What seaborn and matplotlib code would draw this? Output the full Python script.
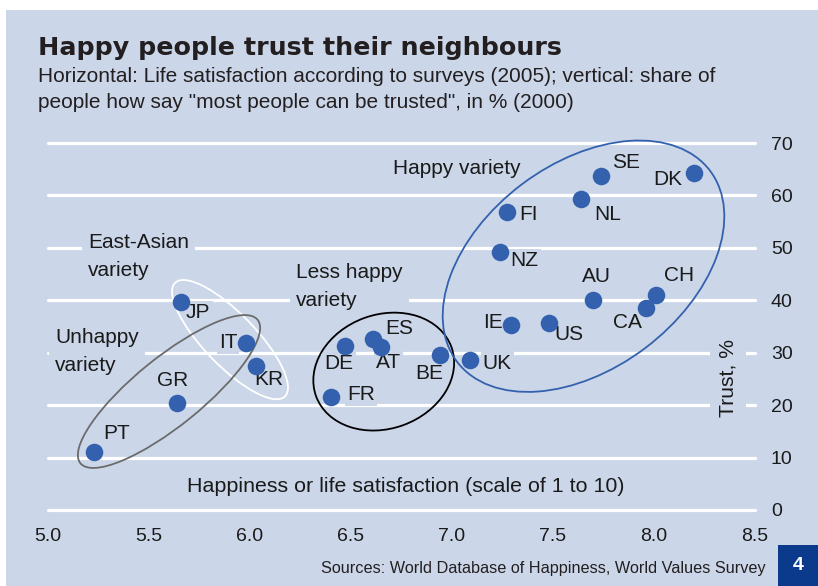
import matplotlib
matplotlib.use("Agg")
import matplotlib.pyplot as plt
import matplotlib.transforms as mtransforms
from matplotlib.patches import Ellipse, Rectangle
import pandas as pd
import seaborn as sns

# data
countries = ["PT", "GR", "JP", "IT", "KR", "DE", "FR", "ES", "AT", "BE", "UK",
             "IE", "US", "FI", "NZ", "NL", "SE", "DK", "AU", "CH", "CA"]
happiness = [5.23, 5.64, 5.66, 5.98, 6.03, 6.47, 6.40, 6.61, 6.65, 6.94, 7.09,
             7.29, 7.48, 7.27, 7.24, 7.64, 7.74, 8.20, 7.70, 8.01, 7.96]
trust = [11.1, 20.5, 39.7, 31.8, 27.5, 31.3, 21.5, 32.7, 31.1, 29.6, 28.6,
         35.3, 35.6, 56.8, 49.3, 59.4, 63.7, 64.2, 40.0, 41.1, 38.5]

x_ticks = [5.0, 5.5, 6.0, 6.5, 7.0, 7.5, 8.0, 8.5]
x_tick_labels = ["5.0", "5.5", "6.0", "6.5", "7.0", "7.5", "8.0", "8.5"]
y_ticks = [0, 10, 20, 30, 40, 50, 60, 70]

# label offsets in pixels (dx, dy), y up
label_offsets = {
    "PT": (22, 18), "GR": (-5, 22), "JP": (17, -11), "IT": (-18, 1),
    "KR": (13, -14), "DE": (-6, -18), "FR": (30, 3), "ES": (26, 10),
    "AT": (7, -16), "BE": (-11, -19), "UK": (27, -3), "IE": (-18, 2),
    "US": (20, -11), "FI": (22, -2), "NZ": (24, -9), "NL": (26, -16),
    "SE": (25, 14), "DK": (-27, -6), "AU": (3, 24), "CH": (23, 19),
    "CA": (-18, -14),
}

BG = "#cbd7e9"
DOT = "#3461ae"
INK = "#1a1a1a"

df = pd.DataFrame({"country": countries, "happiness": happiness, "trust": trust})

sns.set_theme(style="white")
plt.rcParams["font.family"] = ["Liberation Sans", "DejaVu Sans"]

fig = plt.figure(figsize=(8.18, 5.86), dpi=100)
fig.patch.set_facecolor("white")
fig.patches.append(Rectangle((6 / 818, 0), 1, 576 / 586, transform=fig.transFigure,
                             facecolor=BG, edgecolor="none", zorder=-10))

ax = fig.add_axes([48 / 818, 76 / 586, 707 / 818, 367 / 586])
ax.set_facecolor("none")
ax.set_xlim(5.0, 8.5)
ax.set_ylim(0, 70)
for s in ax.spines.values():
    s.set_visible(False)

# white gridlines
ax.hlines(y_ticks, 5.0, 8.5, color="white", lw=2.3, capstyle="round",
          zorder=1, clip_on=False)

sns.scatterplot(data=df, x="happiness", y="trust", ax=ax, s=160, color=DOT,
                linewidth=0, zorder=5, clip_on=False)

lbl_box = dict(boxstyle="square,pad=0.1", facecolor=BG, edgecolor="none")
for c, hx, ty in zip(countries, happiness, trust):
    dx, dy = label_offsets[c]
    ax.annotate(c, (hx, ty), xytext=(dx, dy), textcoords="offset pixels",
                ha="center", va="center", fontsize=15, color=INK,
                bbox=lbl_box, zorder=2)

# group labels
grp_box = dict(boxstyle="square,pad=0.3", facecolor=BG, edgecolor="none")
ax.text(6.708, 65.2, "Happy variety", fontsize=15, ha="left", va="center",
        color=INK, bbox=grp_box, zorder=2)
ax.text(5.198, 48.35, "East-Asian\nvariety", fontsize=15, ha="left", va="center",
        color=INK, linespacing=1.6, bbox=grp_box, zorder=2)
ax.text(6.228, 42.6, "Less happy\nvariety", fontsize=15, ha="left", va="center",
        color=INK, linespacing=1.6, bbox=grp_box, zorder=2)
ax.text(5.035, 30.2, "Unhappy\nvariety", fontsize=15, ha="left", va="center",
        color=INK, linespacing=1.6, bbox=grp_box, zorder=2)

ax.text(6.772, 4.4, "Happiness or life satisfaction (scale of 1 to 10)",
        fontsize=15.4, ha="center", va="center", color=INK, zorder=2)
ax.text(8.366, 25.2, "Trust, %", fontsize=15.2, rotation=90, ha="center",
        va="center", color=INK,
        bbox=dict(boxstyle="square,pad=0.4", facecolor=BG, edgecolor="none"),
        zorder=2)

# ellipses, sized in pixels around a data-space centre
def ring(cx, cy, w, h, angle, color):
    tr = mtransforms.ScaledTranslation(cx, cy, ax.transData)
    ax.add_patch(Ellipse((0, 0), w, h, angle=angle, transform=tr, fill=False,
                         edgecolor=color, lw=1.3, zorder=3, clip_on=False))

ring(5.901, 32.5, 158, 52, -46, "white")
ring(5.599, 22.6, 228, 68, 39, "#6b6b6b")
ring(6.662, 26.4, 144, 114, 20, "black")
ring(7.651, 46.5, 317, 205, 37, "#3461ae")

ax.set_xticks(x_ticks)
ax.set_xticklabels(x_tick_labels)
ax.set_yticks(y_ticks)
ax.yaxis.tick_right()
ax.tick_params(axis="x", length=0, pad=13, labelsize=14, colors=INK)
ax.tick_params(axis="y", length=0, pad=11.5, labelsize=14, colors=INK)
ax.set_xlabel("")
ax.set_ylabel("")

fig.text(38 / 818, (586 - 55) / 586, "Happy people trust their neighbours",
         fontsize=18.3, fontweight="bold", family="DejaVu Sans", color="#231f20",
         va="baseline")
fig.text(38 / 818, (586 - 82) / 586,
         "Horizontal: Life satisfaction according to surveys (2005); vertical: share of",
         fontsize=15, color="#231f20", va="baseline")
fig.text(38 / 818, (586 - 108.5) / 586,
         "people how say \"most people can be trusted\", in % (2000)",
         fontsize=15, color="#231f20", va="baseline")
fig.text(766 / 818, 13 / 586,
         "Sources: World Database of Happiness, World Values Survey",
         fontsize=11.7, color="#231f20", ha="right", va="baseline")

fig.patches.append(Rectangle((778 / 818, 0), 40 / 818, 41 / 586,
                             transform=fig.transFigure, facecolor="#0b3a8c",
                             edgecolor="none", zorder=5))
fig.text(798 / 818, 20.5 / 586, "4", fontsize=14, fontweight="bold",
         color="white", ha="center", va="center", zorder=6)

fig.savefig("out.png", dpi=100)
